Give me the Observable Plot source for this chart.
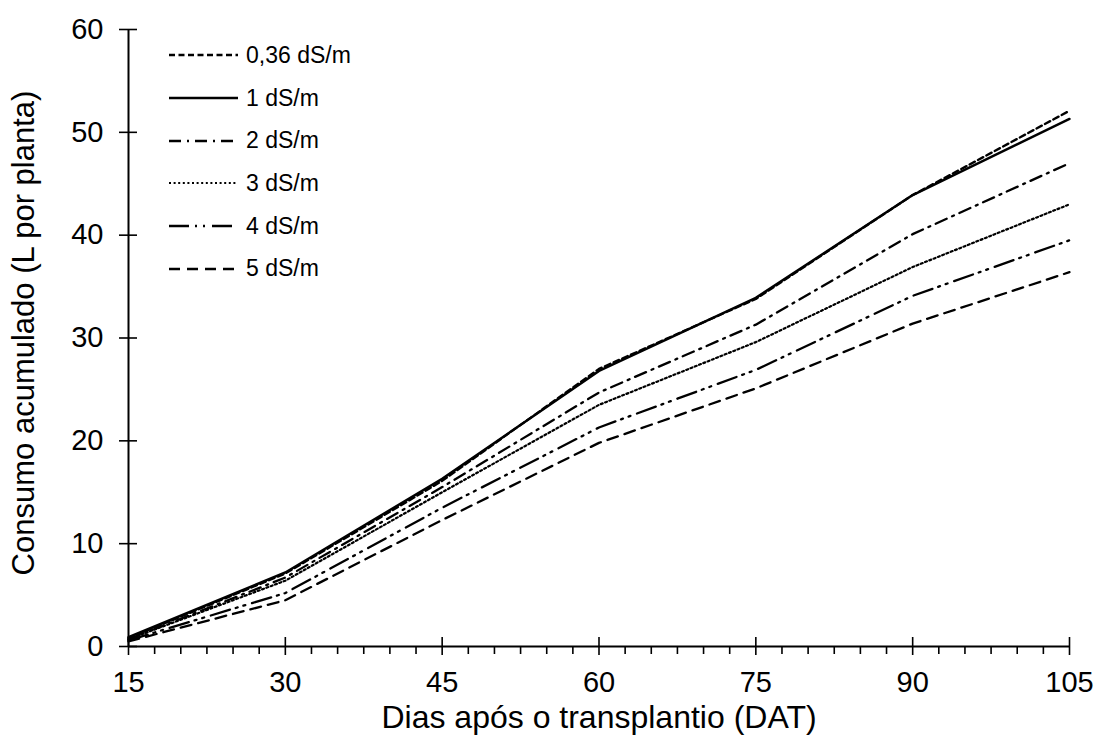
<!DOCTYPE html>
<html>
<head>
<meta charset="utf-8">
<script src="https://cdn.jsdelivr.net/npm/d3@7"></script>
<script src="https://cdn.jsdelivr.net/npm/@observablehq/plot@0.6"></script>
<style>
  html, body { margin: 0; padding: 0; background: #fff; }
  #wrap { position: relative; width: 1097px; height: 745px; font-family: "Liberation Sans", Arial, sans-serif; }
  #legend { position: absolute; left: 168px; top: 34px; }
  .row { display: flex; align-items: center; height: 42.7px; font-size: 23px; color: #000; white-space: nowrap; }
  .row svg { margin-right: 8px; }
</style>
</head>
<body>
<div id="wrap"><div id="chart"></div><div id="legend"></div></div>
<script>
const days = [15, 30, 45, 60, 75, 90, 105];
const seriesNames = ["0,36 dS/m", "1 dS/m", "2 dS/m", "3 dS/m", "4 dS/m", "5 dS/m"];
const s036 = [0.8, 7.1, 16.1, 27.0, 33.8, 43.9, 52.1];
const s1   = [0.9, 7.2, 16.3, 26.8, 33.9, 43.9, 51.3];
const s2   = [0.7, 6.7, 15.5, 24.7, 31.3, 40.1, 47.0];
const s3   = [0.7, 6.4, 15.0, 23.5, 29.6, 36.9, 43.0];
const s4   = [0.6, 5.2, 13.5, 21.3, 26.9, 34.1, 39.5];
const s5   = [0.5, 4.5, 12.3, 19.8, 25.1, 31.4, 36.4];
const xTicks = [15, 30, 45, 60, 75, 90, 105];
const xMinor = d3.range(15, 105.01, 2.5).filter(d => !xTicks.includes(d));
const yTicks = [0, 10, 20, 30, 40, 50, 60];
const xTitle = "Dias após o transplantio (DAT)";
const yTitle = "Consumo acumulado (L por planta)";

const allSeries = [s036, s1, s2, s3, s4, s5];
const dashes = ["6,3.5", null, "12,6,2,6", "2,2.6", "20,6,2,6,2,7", "11,7"];
const widths = [2.3, 2.5, 2.3, 2.2, 2.3, 2.3];

const rows = [];
allSeries.forEach((vals, i) => vals.forEach((v, j) => rows.push({serie: seriesNames[i], x: days[j], y: v})));

const lineMarks = seriesNames.map((name, i) => Plot.line(rows.filter(r => r.serie === name), {
  x: "x", y: "y", stroke: "#000", strokeWidth: widths[i],
  strokeDasharray: dashes[i] || undefined, strokeLinejoin: "round"
}));

const tickFont = 29;
const titleFont = 31;
const chart = Plot.plot({
  width: 1097, height: 745,
  marginLeft: 128, marginRight: 28, marginTop: 29, marginBottom: 99,
  style: { fontFamily: "Liberation Sans, Arial, sans-serif", background: "#fff", color: "#000" },
  x: { domain: [15, 105] },
  y: { domain: [0, 60] },
  marks: [
    ...lineMarks,
    Plot.axisX({ ticks: xMinor, tickSize: 8, tickFormat: () => "", label: null, strokeWidth: 1.6 }),
    Plot.axisX({ ticks: xTicks, tickSize: 9, dy: -9, tickFormat: () => "", label: null, strokeWidth: 1.6 }),
    Plot.axisX({ ticks: xTicks, tickSize: 9, tickPadding: 16, fontSize: tickFont, label: null, strokeWidth: 1.6 }),
    Plot.axisY({ ticks: yTicks, tickSize: 9, tickPadding: 16, fontSize: tickFont, label: null, strokeWidth: 1.6 }),
    Plot.axisY({ ticks: yTicks, tickSize: 9, dx: 9, tickFormat: () => "", label: null, strokeWidth: 1.6 }),
    Plot.ruleX([15], { stroke: "#000", strokeWidth: 2 }),
    Plot.ruleY([0], { stroke: "#000", strokeWidth: 2 }),
    Plot.text([xTitle], { text: d => d, frameAnchor: "bottom", lineAnchor: "middle", dy: 71, fontSize: 32, fill: "#000", style: "letter-spacing: 0.5px" }),
    Plot.text([yTitle], { text: d => d, frameAnchor: "left", textAnchor: "middle", lineAnchor: "middle", dx: -104, dy: -5, rotate: -90, fontSize: titleFont, fill: "#000" })
  ]
});
document.getElementById("chart").appendChild(chart);

const legend = document.getElementById("legend");
seriesNames.forEach((name, i) => {
  const row = document.createElement("div");
  row.className = "row";
  const ns = "http://www.w3.org/2000/svg";
  const svg = document.createElementNS(ns, "svg");
  svg.setAttribute("width", 70); svg.setAttribute("height", 10);
  const ln = document.createElementNS(ns, "line");
  ln.setAttribute("x1", 1); ln.setAttribute("x2", 70); ln.setAttribute("y1", 5); ln.setAttribute("y2", 5);
  ln.setAttribute("stroke", "#000"); ln.setAttribute("stroke-width", widths[i]);
  if (dashes[i]) ln.setAttribute("stroke-dasharray", dashes[i]);
  svg.appendChild(ln);
  row.appendChild(svg);
  const t = document.createElement("span");
  t.textContent = name;
  row.appendChild(t);
  legend.appendChild(row);
});
</script>
</body>
</html>
